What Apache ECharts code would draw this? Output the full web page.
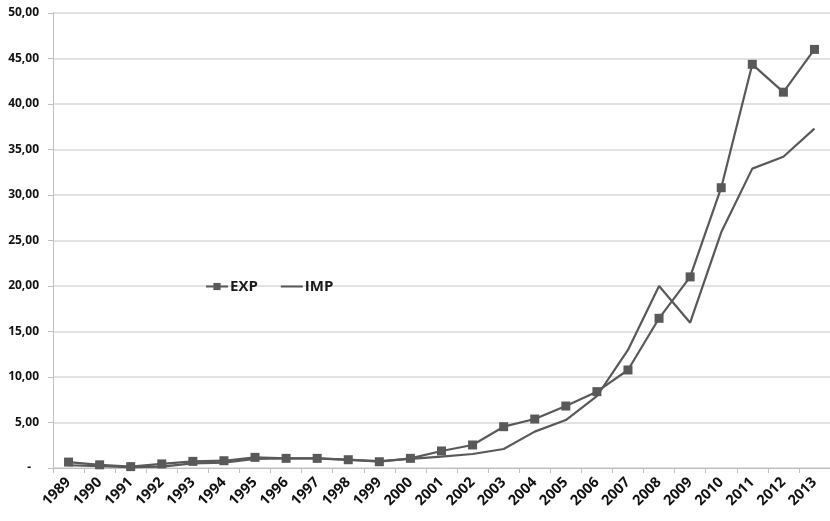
<!DOCTYPE html>
<html>
<head>
<meta charset="utf-8">
<script src="https://cdn.jsdelivr.net/npm/echarts@6/dist/echarts.min.js"></script>
<style>
  html, body { margin: 0; padding: 0; background: #fff; }
  #chart { width: 830px; height: 521px; }
</style>
</head>
<body>
<div id="chart"></div>
<script>
// years on the category axis
var years = ['1989', '1990', '1991', '1992', '1993', '1994', '1995', '1996', '1997', '1998',
  '1999', '2000', '2001', '2002', '2003', '2004', '2005', '2006', '2007', '2008',
  '2009', '2010', '2011', '2012', '2013'];

// exports (with square markers)
var expValues = [0.65, 0.35, 0.15, 0.45, 0.73, 0.8, 1.17, 1.06, 1.06, 0.91,
  0.69, 1.06, 1.87, 2.53, 4.54, 5.38, 6.81, 8.39, 10.77, 16.45,
  21.0, 30.8, 44.36, 41.3, 46.0];

// imports (plain line)
var impValues = [0.3, 0.2, 0.1, 0.15, 0.5, 0.6, 1.0, 1.05, 1.05, 0.9,
  0.75, 1.0, 1.25, 1.54, 2.09, 4.0, 5.27, 7.9, 12.97, 20.0,
  15.97, 25.9, 32.9, 34.2, 37.3];

var lineColor = '#595959';
var labelFont = '"Open Sans", Lato, sans-serif';

var myChart = echarts.init(document.getElementById('chart'));

myChart.setOption({
    animation: false,
    backgroundColor: '#fff',
    grid: {
        left: 53,
        right: 0,
        top: 13,
        bottom: 53
    },
    legend: {
        left: 200,
        top: 274,
        itemWidth: 22,
        itemHeight: 9,
        itemGap: 22,
        data: [
            { name: 'EXP' },
            { name: 'IMP', itemStyle: { opacity: 0 } }
        ],
        textStyle: {
            color: '#1a1a1a',
            fontFamily: labelFont,
            fontWeight: 'bold',
            fontSize: 15,
            padding: [0, 0, 0, -3]
        }
    },
    xAxis: {
        type: 'category',
        data: years,
        boundaryGap: true,
        axisLine: { lineStyle: { color: '#bfbfbf', width: 1 } },
        axisTick: { show: true, length: 5, lineStyle: { color: '#bfbfbf' } },
        axisLabel: {
            interval: 0,
            rotate: 45,
            margin: 12,
            color: '#111',
            fontFamily: labelFont,
            fontWeight: 'bold',
            fontSize: 14.5
        }
    },
    yAxis: {
        type: 'value',
        min: 0,
        max: 50,
        interval: 5,
        axisLine: { show: true, lineStyle: { color: '#bfbfbf', width: 1 } },
        axisTick: { show: true, length: 5, lineStyle: { color: '#bfbfbf' } },
        splitLine: { lineStyle: { color: '#d9d9d9', width: 1.5 } },
        axisLabel: {
            margin: 14,
            color: '#111',
            fontFamily: labelFont,
            fontWeight: 'bold',
            fontSize: 12,
            formatter: function (v) {
                if (v === 0) return '{z|-}';
                return v.toFixed(2).replace('.', ',');
            },
            rich: {
                z: { padding: [0, 8, 0, 0], fontWeight: 'bold', color: '#111' }
            }
        }
    },
    series: [{
        name: 'EXP',
        type: 'line',
        data: expValues,
        symbol: 'rect',
        symbolSize: 9,
        lineStyle: { color: lineColor, width: 2.2 },
        itemStyle: { color: lineColor },
        z: 3
    }, {
        name: 'IMP',
        type: 'line',
        data: impValues,
        symbol: 'none',
        lineStyle: { color: lineColor, width: 2.2 },
        itemStyle: { color: lineColor },
        z: 2
    }]
});
</script>
</body>
</html>
